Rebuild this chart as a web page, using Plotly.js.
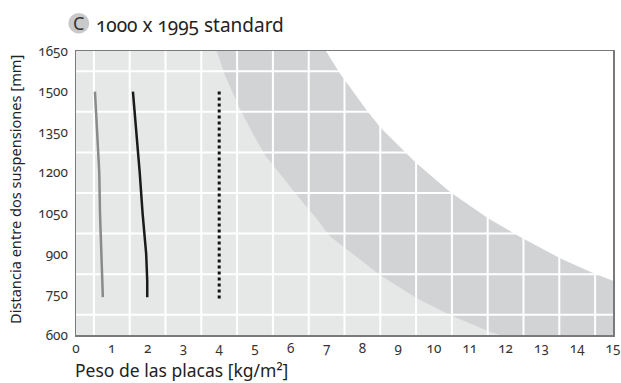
<!DOCTYPE html>
<html>
<head>
<meta charset="utf-8">
<script src="https://cdn.plot.ly/plotly-3.0.1.min.js"></script>
<style>
html,body{margin:0;padding:0;background:#fff;}
#chart{width:621px;height:383px;}
.main-svg text{font-feature-settings:"onum" 1;font-variant-numeric:oldstyle-nums;}
</style>
</head>
<body>
<div id="chart"></div>
<script>
// Tick values
const xTicks = [0,1,2,3,4,5,6,7,8,9,10,11,12,13,14,15];
const yTicks = [600,750,900,1050,1200,1350,1500,1650];
const xGrid = [0.5,1.5,2.5,3.5,4.5,5.5,6.5,7.5,8.5,9.5,10.5,11.5,12.5,13.5,14.5];
const yGrid = [675,825,975,1125,1275,1425,1575];

// Boundary of the light zone (light / dark)
const lightEdgeX = [3.93,4.16,4.53,4.91,5.28,5.65,6.03,6.40,6.68,7.09,7.47,8.49,9.52,10.45,11.56,11.84];
const lightEdgeY = [1650,1560,1449,1351,1265,1203,1142,1080,1037,965,926,822,736,674,612,600];
// Boundary of the dark zone (dark / white)
const darkEdgeX = [6.98,7.37,8.12,8.49,9.05,9.47,10.45,11.51,12.32,12.68,13.52,14.44,15];
const darkEdgeY = [1650,1568,1431,1369,1295,1240,1129,1032,969,944,884,829,801];

// Series
const grayX = [0.53,0.60,0.65,0.67,0.70,0.73,0.75];
const grayY = [1500,1350,1200,1050,900,750,740];
const blackX = [1.59,1.69,1.78,1.86,1.96,1.99,1.99];
const blackY = [1500,1350,1200,1050,900,800,740];
const dotX = [4.0,4.0];
const dotY = [1500,733];

const xMin = xTicks[0], xMax = xTicks[xTicks.length-1];
const yMin = yTicks[0], yMax = yTicks[yTicks.length-1];

// region polygons
const darkPolyX = darkEdgeX.concat([xMax, xMin, xMin]);
const darkPolyY = darkEdgeY.concat([yMin, yMin, yMax]);
const lightPolyX = lightEdgeX.concat([xMin, xMin]);
const lightPolyY = lightEdgeY.concat([yMin, yMax]);

// grid lines as a trace (drawn over the zones, under the series)
const gx = [], gy = [];
xGrid.forEach(v => { gx.push(v, v, null); gy.push(yMin, yMax, null); });
yGrid.forEach(v => { gx.push(xMin, xMax, null); gy.push(v, v, null); });

const traces = [
  {x: darkPolyX, y: darkPolyY, mode: 'lines', fill: 'toself', fillcolor: '#d2d3d5',
   line: {width: 0, color: 'rgba(0,0,0,0)'}, hoverinfo: 'skip'},
  {x: lightPolyX, y: lightPolyY, mode: 'lines', fill: 'toself', fillcolor: '#e6e7e7',
   line: {width: 0, color: 'rgba(0,0,0,0)'}, hoverinfo: 'skip'},
  {x: gx, y: gy, mode: 'lines', line: {color: '#ffffff', width: 2}, hoverinfo: 'skip', connectgaps: false},
  {x: grayX, y: grayY, mode: 'lines', line: {color: '#8a8a8a', width: 2.5}},
  {x: blackX, y: blackY, mode: 'lines', line: {color: '#1a1a1a', width: 2.5}},
  {x: dotX, y: dotY, mode: 'lines', line: {color: '#111111', width: 3, dash: 'dot'}}
];

const L = 76, R = 8, T = 51, B = 48;
const W = 621, H = 383;
const pw = W - L - R, ph = H - T - B;
const px = p => (p - L) / pw;          // pixel x -> paper
const py = p => 1 - (p - T) / ph;       // pixel y -> paper

const font = 'Noto Sans, Open Sans, sans-serif';

const layout = {
  width: W, height: H,
  margin: {l: L, r: R, t: T, b: B, pad: 0},
  paper_bgcolor: '#ffffff',
  plot_bgcolor: '#ffffff',
  showlegend: false,
  font: {family: font, color: '#333333', size: 13.5},
  xaxis: {
    range: [xMin, xMax], tickvals: xTicks, ticktext: xTicks.map(String),
    showgrid: false, zeroline: false, showline: true, mirror: true,
    linecolor: '#7a7a7a', linewidth: 1.5,
    ticks: '', ticklabelstandoff: 0, ticklabeloverflow: 'allow',
    tickfont: {family: font, size: 13.5, color: '#333333'}, fixedrange: true
  },
  yaxis: {
    range: [yMin, yMax], tickvals: yTicks, ticktext: yTicks.map(String),
    showgrid: false, zeroline: false, showline: true, mirror: true,
    linecolor: '#7a7a7a', linewidth: 1.5,
    ticks: '', ticklabelstandoff: 4, ticklabeloverflow: 'allow',
    tickfont: {family: font, size: 13.5, color: '#333333'}, fixedrange: true
  },
  shapes: [
    {type: 'circle', xref: 'paper', yref: 'paper',
     x0: px(68.3), x1: px(89.3), y0: py(33.5), y1: py(13),
     fillcolor: '#c9c9c9', line: {width: 0}}
  ],
  annotations: [
    {text: 'C', xref: 'paper', yref: 'paper', x: px(78.8), y: py(23.5), xanchor: 'center', yanchor: 'middle',
     showarrow: false, font: {family: font, size: 18, color: '#333333'}},
    {text: '1000 x 1995 standard', xref: 'paper', yref: 'paper', x: px(92), y: py(25),
     xanchor: 'left', yanchor: 'middle', showarrow: false,
     font: {family: font, size: 19, color: '#222222'}},
    {text: 'Peso de las placas [kg/m²]', xref: 'paper', yref: 'paper', x: px(73), y: py(370),
     xanchor: 'left', yanchor: 'middle', showarrow: false,
     font: {family: font, size: 17.5, color: '#222222'}},
    {text: 'Distancia entre dos suspensiones [mm]', xref: 'paper', yref: 'paper', x: px(15), y: py(190),
     xanchor: 'center', yanchor: 'middle', textangle: -90, showarrow: false,
     font: {family: font, size: 14.6, color: '#222222'}}
  ]
};

Plotly.newPlot('chart', traces, layout, {displayModeBar: false, staticPlot: true});
</script>
</body>
</html>
